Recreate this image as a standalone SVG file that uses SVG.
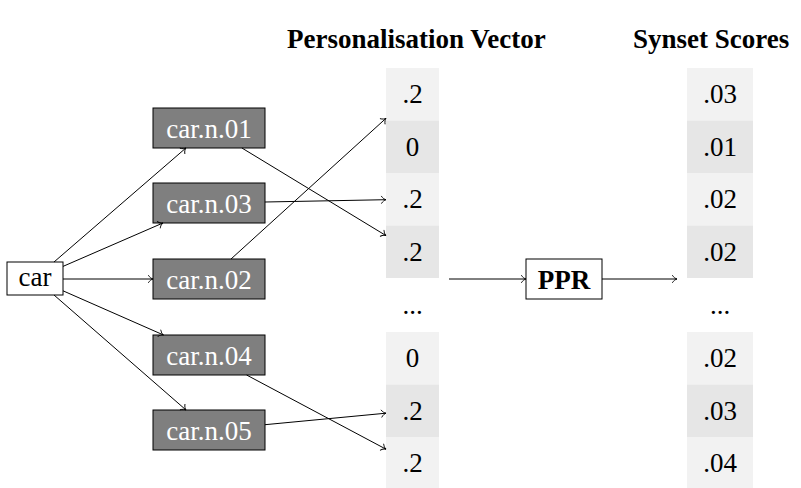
<svg xmlns="http://www.w3.org/2000/svg" width="801" height="488" viewBox="0 0 801 488" font-family="'Liberation Serif', 'DejaVu Serif', serif">
<style>
text{font-family:'Liberation Serif','Times New Roman','DejaVu Serif',serif;font-size:27px;text-anchor:middle}
.syn rect{fill:#7f7f7f;stroke:#000;stroke-width:1}
.syn text{fill:#fff}
.box{fill:#fff;stroke:#000;stroke-width:1}
.l{fill:#f2f2f2}
.d{fill:#e6e6e6}
.title{font-weight:bold;text-anchor:start}
.edges line{stroke:#000;stroke-width:1;marker-end:url(#ah)}
</style>
<defs>
<marker id="ah" markerUnits="userSpaceOnUse" viewBox="-6 -5 7 10" refX="0" refY="0" markerWidth="7" markerHeight="10" orient="auto" overflow="visible">
<path d="M-4.5,-3.5 C-3.3,-1.4 -1.2,-0.3 0,0 C-1.2,0.3 -3.3,1.4 -4.5,3.5" fill="none" stroke="#000" stroke-width="0.9" stroke-linecap="round"/>
</marker>
</defs>
<text class="title" x="287" y="48">Personalisation Vector</text>
<text class="title" x="633" y="48">Synset Scores</text>
<g id="car"><rect class="box" x="7" y="262" width="56" height="33"/><text x="35" y="286">car</text></g>
<g id="car.n.01" class="syn"><rect x="153" y="108" width="112" height="40"/><text x="209" y="137.5">car.n.01</text></g>
<g id="car.n.03" class="syn"><rect x="153" y="183" width="112" height="40"/><text x="209" y="212.5">car.n.03</text></g>
<g id="car.n.02" class="syn"><rect x="153" y="259" width="112" height="40"/><text x="209" y="288.5">car.n.02</text></g>
<g id="car.n.04" class="syn"><rect x="153" y="335" width="112" height="40"/><text x="209" y="364.5">car.n.04</text></g>
<g id="car.n.05" class="syn"><rect x="153" y="410" width="112" height="40"/><text x="209" y="439.5">car.n.05</text></g>
<g id="vector">
<rect class="l" x="386" y="68" width="53" height="52.5"/><text x="412.5" y="103">.2</text>
<rect class="d" x="386" y="120.5" width="53" height="52.5"/><text x="412.5" y="155.5">0</text>
<rect class="l" x="386" y="173" width="53" height="52.5"/><text x="412.5" y="208">.2</text>
<rect class="d" x="386" y="225.5" width="53" height="52.5"/><text x="412.5" y="260.5">.2</text>
<text x="412.5" y="314">...</text>
<rect class="l" x="386" y="332" width="53" height="52.5"/><text x="412.5" y="367">0</text>
<rect class="d" x="386" y="384.5" width="53" height="52.5"/><text x="412.5" y="419.5">.2</text>
<rect class="l" x="386" y="437" width="53" height="52.5"/><text x="412.5" y="472">.2</text>
</g>
<g id="scores">
<rect class="l" x="687" y="68" width="66" height="52.5"/><text x="720" y="103">.03</text>
<rect class="d" x="687" y="120.5" width="66" height="52.5"/><text x="720" y="155.5">.01</text>
<rect class="l" x="687" y="173" width="66" height="52.5"/><text x="720" y="208">.02</text>
<rect class="d" x="687" y="225.5" width="66" height="52.5"/><text x="720" y="260.5">.02</text>
<text x="720" y="314">...</text>
<rect class="l" x="687" y="332" width="66" height="52.5"/><text x="720" y="367">.02</text>
<rect class="d" x="687" y="384.5" width="66" height="52.5"/><text x="720" y="419.5">.03</text>
<rect class="l" x="687" y="437" width="66" height="52.5"/><text x="720" y="472">.04</text>
</g>
<g id="PPR"><rect class="box" x="526" y="259" width="76" height="40"/><text x="564" y="289" font-weight="bold">PPR</text></g>
<g class="edges">
<line x1="54" y1="262" x2="185.9" y2="148"/>
<line x1="63" y1="266.4" x2="162.9" y2="223"/>
<line x1="63" y1="279" x2="153" y2="279"/>
<line x1="63" y1="290.8" x2="163.5" y2="335"/>
<line x1="54" y1="295" x2="186" y2="410"/>
<line x1="241.9" y1="148" x2="386" y2="235.6"/>
<line x1="265" y1="202" x2="386" y2="199.7"/>
<line x1="231" y1="259" x2="386" y2="118.3"/>
<line x1="246.6" y1="375" x2="386" y2="449.2"/>
<line x1="265" y1="424.7" x2="386" y2="413.2"/>
<line x1="449" y1="279" x2="526" y2="279"/>
<line x1="602" y1="279" x2="677" y2="279"/>
</g>
</svg>
